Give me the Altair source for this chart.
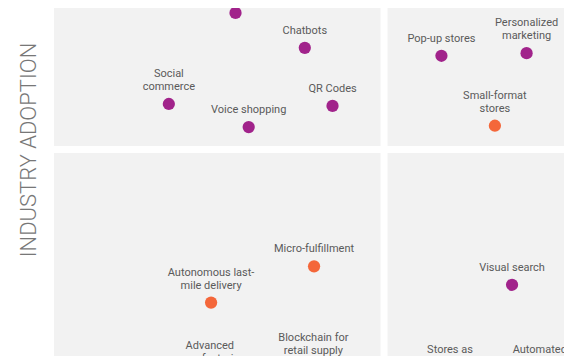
import altair as alt
import pandas as pd

# ---- data ----
labels = [
    "", "Chatbots", "Social\ncommerce", "QR Codes", "Voice shopping",
    "Pop-up stores", "Personalized\nmarketing", "Small-format\nstores",
    "Micro-fulfillment", "Autonomous last-\nmile delivery",
    "Advanced\nmanufacturing", "Blockchain for\nretail supply\nchain",
    "Visual search", "Stores as\nfulfillment centers", "Automated\ncheckout",
]
maturity = [27.5, 38.0, 17.4, 42.2, 29.5, 58.7, 71.6, 66.8, 39.4, 23.8,
            23.6, 39.3, 69.4, 60.0, 73.6]
adoption = [70.7, 65.4, 56.9, 56.6, 53.4, 64.2, 64.6, 53.6, 32.3, 26.8,
            15.65, 14.9, 29.5, 15.1, 15.0]
group = ["A", "A", "A", "A", "A", "A", "A", "B", "B", "B",
         "A", "A", "A", "A", "A"]

X_MIN, X_MAX = 0, 77.27
Y_MIN, Y_MAX = 18.71, 71.44
quad_x1 = [X_MIN, 50.53, X_MIN, 50.53]
quad_x2 = [49.47, X_MAX, 49.47, X_MAX]
quad_y1 = [50.53, 50.53, Y_MIN, Y_MIN]
quad_y2 = [Y_MAX, Y_MAX, 49.47, 49.47]

pts = pd.DataFrame({"label": labels, "x": maturity, "y": adoption, "group": group})
quads = pd.DataFrame({"x": quad_x1, "x2": quad_x2, "y": quad_y1, "y2": quad_y2})

# one row per text line, k = line index counted from the bottom line
rows = []
for lab, xv, yv in zip(labels, maturity, adoption):
    lines = lab.split("\n")
    for i, ln in enumerate(lines):
        rows.append({"line": ln, "x": xv, "y": yv, "k": len(lines) - 1 - i})
tdf = pd.DataFrame(rows)

xs = alt.Scale(domain=[X_MIN, X_MAX], nice=False, zero=False)
ys = alt.Scale(domain=[Y_MIN, Y_MAX], nice=False, zero=False)

yaxis = alt.Axis(
    title="INDUSTRY ADOPTION", labels=False, ticks=False, domain=False, grid=False,
    titleFont="Roboto", titleFontWeight=300, titleFontSize=22, titleColor="#777777",
    titleAngle=270, titleAlign="center", titleBaseline="middle",
    titleX=-26, titleY=141.5,
)

rects = alt.Chart(quads).mark_rect(color="#f2f2f2", clip=True).encode(
    x=alt.X("x:Q", scale=xs, axis=None),
    x2="x2",
    y=alt.Y("y:Q", scale=ys, axis=yaxis),
    y2="y2",
)

points = alt.Chart(pts).mark_circle(size=150, opacity=1, clip=True).encode(
    x=alt.X("x:Q", scale=xs, axis=None),
    y=alt.Y("y:Q", scale=ys, axis=yaxis),
    color=alt.Color("group:N", scale=alt.Scale(domain=["A", "B"], range=["#a1238b", "#f4673a"]), legend=None),
)

text_layers = []
for k in range(3):
    text_layers.append(
        alt.Chart(tdf).transform_filter(alt.datum.k == k).mark_text(
            font="Roboto", fontSize=11, color="#5a5a5a", baseline="bottom",
            align="center", dy=-12 - 13 * k, clip=True,
        ).encode(
            x=alt.X("x:Q", scale=xs, axis=None),
            y=alt.Y("y:Q", scale=ys, axis=yaxis),
            text="line:N",
        )
    )

chart = alt.layer(rects, points, *text_layers).properties(
    width=510, height=348,
    autosize=alt.AutoSizeParams(type="none"),
    padding={"left": 46, "top": 0, "right": 0, "bottom": 0},
).configure_view(stroke=None)

chart.save("out.html", embed_options={"renderer": "svg", "actions": False})
